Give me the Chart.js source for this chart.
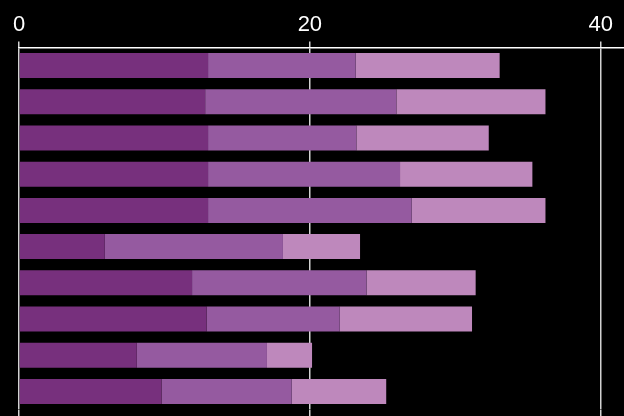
<!DOCTYPE html>
<html>
<head>
<meta charset="utf-8">
<script src="https://cdn.jsdelivr.net/npm/chart.js@4"></script>
<style>
  html, body { margin: 0; padding: 0; background: #000; }
  #wrap { width: 624px; height: 416px; }
</style>
</head>
<body>
<div id="wrap"><canvas id="myChart" width="624" height="416"></canvas></div>
<script>
// categories (axis labels are hidden in the picture)
var rows = ["1", "2", "3", "4", "5", "6", "7", "8", "9", "10"];

// stacked series, left to right
var part1 = [13.0, 12.8, 13.0, 13.0, 13.0, 5.9, 11.9, 12.9, 8.1, 9.8];
var part2 = [10.15, 13.15, 10.2, 13.2, 14.0, 12.25, 12.0, 9.15, 8.95, 8.95];
var part3 = [9.9, 10.25, 9.1, 9.1, 9.2, 5.3, 7.5, 9.1, 3.1, 6.5];

var xTicks = [0, 20, 40];

var col1 = "#77307d";
var col2 = "#955aa0";
var col3 = "#be88bc";

var gridCol = "#d2d2d2";

var ctx = document.getElementById("myChart").getContext("2d");
new Chart(ctx, {
  type: "bar",
  data: {
    labels: rows,
    datasets: [
      { data: part1, backgroundColor: col1 },
      { data: part2, backgroundColor: col2 },
      { data: part3, backgroundColor: col3 },
    ],
  },
  options: {
    indexAxis: "y",
    responsive: false,
    animation: false,
    devicePixelRatio: 1,
    layout: { padding: { left: 19, right: 0, top: 8, bottom: 0 } },
    datasets: {
      bar: { barPercentage: 0.69, categoryPercentage: 1, borderWidth: 0 },
    },
    plugins: { legend: { display: false }, tooltip: { enabled: false } },
    scales: {
      x: {
        type: "linear",
        position: "top",
        stacked: true,
        min: 0,
        max: 41.6,
        afterBuildTicks: function (axis) {
          axis.ticks = xTicks.map(function (v) { return { value: v }; });
        },
        ticks: {
          color: "#ffffff",
          padding: 3.5,
          maxRotation: 0,
          font: { family: "'Liberation Sans', Arial, sans-serif", size: 22 },
        },
        grid: { color: gridCol, lineWidth: 1.5, tickLength: 6 },
        border: { color: "#ffffff", width: 1.5 },
      },
      x2: {
        type: "linear",
        position: "bottom",
        min: 0,
        max: 41.6,
        afterBuildTicks: function (axis) {
          axis.ticks = xTicks.map(function (v) { return { value: v }; });
        },
        ticks: { display: false },
        grid: { color: gridCol, lineWidth: 1.5, tickLength: 6.4, drawOnChartArea: false },
        border: { display: false },
      },
      y: {
        stacked: true,
        display: false,
      },
    },
  },
});
</script>
</body>
</html>
